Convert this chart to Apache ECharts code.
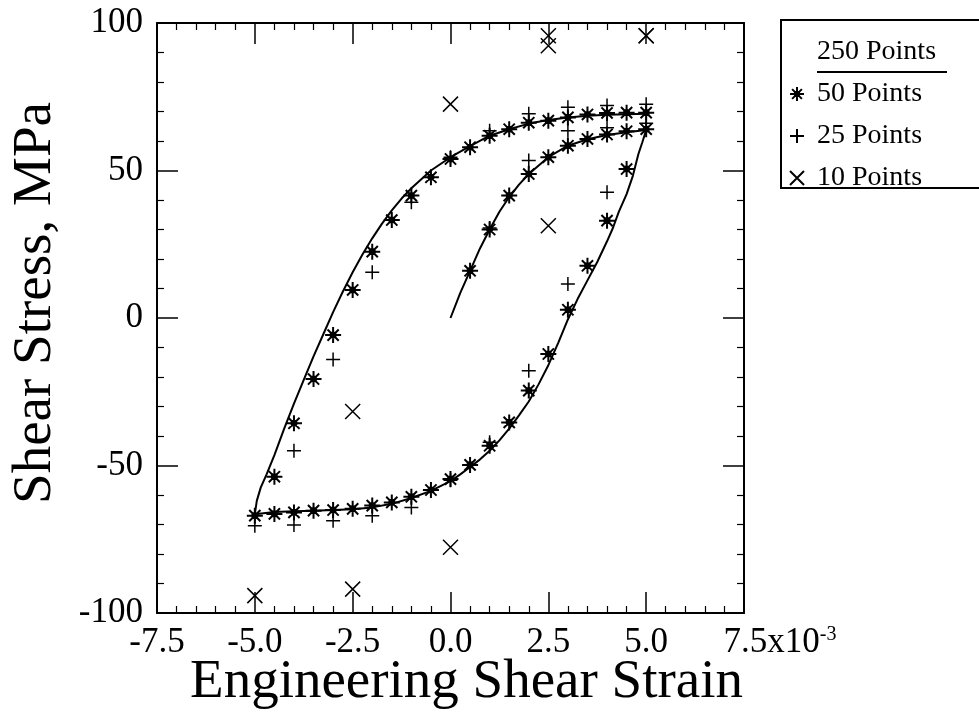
<!DOCTYPE html>
<html>
<head>
<meta charset="utf-8">
<script src="https://cdn.jsdelivr.net/npm/echarts@6/dist/echarts.min.js"></script>
<style>
html,body{margin:0;padding:0;background:#fff;}
#chart{width:979px;height:717px;}
</style>
</head>
<body>
<div id="chart"></div>
<script>
// ---- data (strain in 1e-3, stress in MPa) ----
// 250-point solid curve: initial loading, unloading, reloading
const curveStrain = [
  0, 0.25, 0.5, 0.75, 1.0, 1.25, 1.5, 1.75, 2.0, 2.5, 3.0, 3.5, 4.0, 4.5, 5.0,
  4.9, 4.8, 4.66, 4.5, 4.3, 4.15, 4.0, 3.75, 3.47, 3.25, 3.0, 2.75, 2.5, 2.25, 2.0, 1.75, 1.5, 1.25, 1.0, 0.75, 0.5, 0.25, 0,
  -0.5, -1.0, -1.5, -2.0, -2.5, -3.0, -3.5, -4.0, -4.5, -5.0,
  -4.95, -4.85, -4.7, -4.5, -4.25, -4.0, -3.75, -3.5, -3.25, -3.0, -2.75, -2.5, -2.25, -2.0, -1.75, -1.5, -1.25, -1.0, -0.5,
  0, 0.5, 1.0, 1.5, 2.0, 2.5, 3.0, 3.5, 4.0, 4.5, 5.0
];
const curveStress = [
  0, 8.5, 16, 23.5, 30, 36, 41, 45.2, 48.8, 54.5, 58.4, 60.6, 62.0, 63.0, 63.7,
  59.5, 55.5, 48.2, 42, 36, 30.5, 26, 19, 12, 6.5, -0.5, -8.5, -16, -22.5, -28.3, -33, -37.5, -41.5, -45, -48, -50.5, -53, -55.3,
  -58.6, -61, -63, -64.2, -64.8, -65.1, -65.3, -65.5, -65.8, -66.5,
  -62, -57.5, -53, -46.5, -37.5, -29, -21, -13, -5.5, 2, 9, 15.5, 21.5, 27, 32, 36.5, 40.5, 44, 50,
  54.5, 58.3, 61.8, 64, 65.9, 67.1, 68, 68.6, 68.9, 69.1, 69.2
];

// 50 points (asterisk)
const p50Strain = [
  0.5, 1.0, 1.5, 2.0, 2.5, 3.0, 3.5, 4.0, 4.5, 5.0,
  4.5, 4.0, 3.5, 3.0, 2.5, 2.0, 1.5, 1.0, 0.5, 0, -0.5, -1.0, -1.5, -2.0, -2.5, -3.0, -3.5, -4.0, -4.5, -5.0,
  -4.5, -4.0, -3.5, -3.0, -2.5, -2.0, -1.5, -1.0, -0.5, 0, 0.5, 1.0, 1.5, 2.0, 2.5, 3.0, 3.5, 4.0, 4.5, 5.0
];
const p50Stress = [
  16, 30, 41.5, 48.8, 54.5, 58.4, 60.7, 62.2, 63.3, 64,
  50.5, 33, 17.7, 2.8, -12.2, -24.6, -35.4, -43.3, -49.8, -54.6, -58.3, -60.6, -62.5, -63.6, -64.7, -65.1, -65.3, -65.9, -66.4, -67,
  -53.8, -35.7, -20.7, -5.8, 9.5, 22.5, 33.2, 41.5, 47.7, 53.9, 57.9, 61.8, 64, 66.2, 66.9, 68, 69, 69.5, 69.6, 69.6
];

// 25 points (plus)
const p25Strain = [
  1, 2, 3, 4, 5,
  4, 3, 2, 1, 0, -1, -2, -3, -4, -5,
  -4, -3, -2, -1, 0, 1, 2, 3, 4, 5
];
const p25Stress = [
  30.5, 53.4, 63.5, 64.5, 66,
  42.6, 11.5, -17.9, -42.1, -55, -64.2, -67, -68.7, -70.2, -70.4,
  -45, -14.1, 15.5, 39.2, 54.5, 63.5, 69.2, 71.4, 72, 72.5
];

// 10 points (cross)
const p10Strain = [2.5, 5, 2.5, 0, -2.5, -5, -2.5, 0, 2.5, 5];
const p10Stress = [92.3, 95.7, 31.3, -77.7, -91.9, -94.1, -31.7, 72.5, 95.7, 95.7];

const seriesNames = ['250 Points', '50 Points', '25 Points', '10 Points'];
const xTickLabels = ['-7.5', '-5.0', '-2.5', '0.0', '2.5', '5.0', '7.5'];
const yTickLabels = ['-100', '-50', '0', '50', '100'];

// ---- helpers ----
const zip = (xs, ys) => xs.map((x, i) => [x, ys[i]]);
const FONT = 'Liberation Serif';
const BLACK = '#000';

const SYM_AST = 'path://M0,10L20,10M10,0L10,20M3,3L17,17M17,3L3,17M6.8,10A3.2,3.2,0,1,1,13.2,10A3.2,3.2,0,1,1,6.8,10Z';
const SYM_PLUS = 'path://M0,10L20,10M10,0L10,20';
const SYM_CROSS = 'path://M0,0L20,20M20,0L0,20';

const axisLineStyle = { show: true, onZero: false, lineStyle: { color: BLACK, width: 2 } };
const tickStyle = { show: true, inside: true, length: 21, lineStyle: { color: BLACK, width: 1.5 } };
const minorStyle = { show: true, splitNumber: 5, length: 7, lineStyle: { color: BLACK, width: 1.2 } };

function xLabel(v) {
  const s = xTickLabels[Math.round((v + 7.5) / 2.5)];
  if (Math.abs(v - 7.5) < 1e-9) return '{pad|}{a|' + s + 'x10}{sup|-3}';
  return s;
}
function yLabel(v) {
  return yTickLabels[Math.round((v + 100) / 50)];
}

const chart = echarts.init(document.getElementById('chart'), null, { renderer: 'canvas' });
chart.setOption({
  backgroundColor: '#fff',
  animation: false,
  grid: { left: 157, right: 235, top: 23, bottom: 104, containLabel: false, outerBoundsMode: 'none' },
  xAxis: [
    {
      type: 'value', min: -7.5, max: 7.5, interval: 2.5, position: 'bottom',
      axisLine: axisLineStyle, axisTick: tickStyle, minorTick: minorStyle,
      splitLine: { show: false }, minorSplitLine: { show: false },
      axisLabel: {
        margin: 12, color: BLACK, fontFamily: FONT, fontSize: 35, formatter: xLabel,
        rich: {
          pad: { width: 72, fontSize: 35, fontFamily: FONT },
          a: { fontSize: 35, fontFamily: FONT, color: BLACK },
          sup: { fontSize: 20, fontFamily: FONT, color: BLACK, padding: [0, 0, 16, 0] }
        }
      },
      name: 'Engineering Shear Strain', nameLocation: 'middle', nameGap: 42, nameMoveOverlap: false,
      nameTextStyle: { fontFamily: FONT, fontSize: 55, color: BLACK, padding: [0, 0, 0, 32] }
    },
    {
      type: 'value', min: -7.5, max: 7.5, interval: 2.5, position: 'top',
      axisLine: axisLineStyle, axisTick: tickStyle, minorTick: minorStyle,
      splitLine: { show: false }, axisLabel: { show: false }
    }
  ],
  yAxis: [
    {
      type: 'value', min: -100, max: 100, interval: 50, position: 'left',
      axisLine: axisLineStyle, axisTick: tickStyle, minorTick: minorStyle,
      splitLine: { show: false }, minorSplitLine: { show: false },
      axisLabel: { margin: 14, color: BLACK, fontFamily: FONT, fontSize: 35, formatter: yLabel },
      name: 'Shear Stress, MPa', nameLocation: 'middle', nameGap: 94, nameMoveOverlap: false,
      nameTextStyle: { fontFamily: FONT, fontSize: 55, color: BLACK, padding: [0, 0, 0, 30] }
    },
    {
      type: 'value', min: -100, max: 100, interval: 50, position: 'right',
      axisLine: axisLineStyle, axisTick: tickStyle, minorTick: minorStyle,
      splitLine: { show: false }, axisLabel: { show: false }
    }
  ],
  legend: {
    orient: 'vertical', left: 782, top: 38, padding: 0, itemGap: 14,
    itemWidth: 30, itemHeight: 14,
    textStyle: { fontFamily: FONT, fontSize: 28, color: BLACK, lineHeight: 28 },
    data: [
      { name: seriesNames[0], icon: 'none' },
      { name: seriesNames[1] },
      { name: seriesNames[2] },
      { name: seriesNames[3] }
    ]
  },
  graphic: [
    { type: 'rect', shape: { x: 781, y: 20, width: 260, height: 168 }, style: { fill: 'none', stroke: BLACK, lineWidth: 2 }, silent: true },
    { type: 'line', shape: { x1: 817, y1: 72, x2: 947, y2: 72 }, style: { stroke: BLACK, lineWidth: 2 }, silent: true }
  ],
  series: [
    {
      name: seriesNames[0], type: 'line', xAxisIndex: 0, yAxisIndex: 0,
      data: zip(curveStrain, curveStress), showSymbol: false, symbol: 'none', smooth: false,
      lineStyle: { color: BLACK, width: 2 }, itemStyle: { color: BLACK }, z: 2
    },
    {
      name: seriesNames[1], type: 'scatter', xAxisIndex: 0, yAxisIndex: 0,
      data: zip(p50Strain, p50Stress), symbol: SYM_AST, symbolSize: 16,
      itemStyle: { color: BLACK, borderColor: BLACK, borderWidth: 2, opacity: 1 }, z: 3
    },
    {
      name: seriesNames[2], type: 'scatter', xAxisIndex: 0, yAxisIndex: 0,
      data: zip(p25Strain, p25Stress), symbol: SYM_PLUS, symbolSize: 14,
      itemStyle: { color: BLACK, borderColor: BLACK, borderWidth: 1.5, opacity: 1 }, z: 3
    },
    {
      name: seriesNames[3], type: 'scatter', xAxisIndex: 0, yAxisIndex: 0,
      data: zip(p10Strain, p10Stress), symbol: SYM_CROSS, symbolSize: 15,
      itemStyle: { color: BLACK, borderColor: BLACK, borderWidth: 1.5, opacity: 1 }, z: 3
    }
  ]
});
</script>
</body>
</html>
